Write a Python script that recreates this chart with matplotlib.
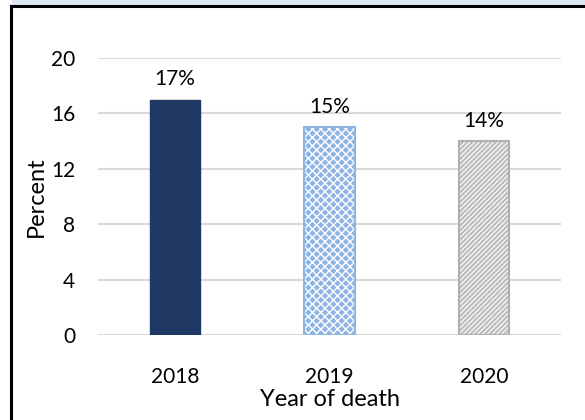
import matplotlib
matplotlib.use("Agg")
import matplotlib.pyplot as plt
from matplotlib.lines import Line2D
from matplotlib.patches import Rectangle

years = ["2018", "2019", "2020"]
values = [17, 15, 14]
labels = ["17%", "15%", "14%"]
yticks = [0, 4, 8, 12, 16, 20]

plt.rcParams['font.family'] = ['Lato', 'DejaVu Sans']

fig = plt.figure(figsize=(5.85, 4.2), dpi=100)
ax = fig.add_axes([98/585, 1-335/420, (561-98)/585, (335-58)/420])

x = list(range(len(years)))
w = 0.325

# 2018 solid
ax.bar(x[0], values[0], width=w, color="#203864", edgecolor="#203864", linewidth=1, zorder=3)
# 2019 blue pattern
plt.rcParams['hatch.linewidth'] = 1.0
ax.bar(x[1], values[1], width=w, color="#8db4e2", edgecolor="white", hatch="xxxx", linewidth=0, zorder=3)
ax.bar(x[1], values[1], width=w, fill=False, edgecolor="#8fb6e0", linewidth=1.5, zorder=4)
# 2020 gray diagonal
plt.rcParams['hatch.linewidth'] = 1.6
ax.bar(x[2], values[2], width=w, color="white", edgecolor="#bdbdbd", hatch="///////", linewidth=0, zorder=3)
ax.bar(x[2], values[2], width=w, fill=False, edgecolor="#b0b0b0", linewidth=1.5, zorder=4)

for xi, v, t in zip(x, values, labels):
    ax.text(xi, v + 0.75, t, ha="center", va="bottom", fontsize=15, color="black")

ax.set_xlim(-0.5, 2.5)
ax.set_ylim(0, 20)
ax.set_yticks(yticks)
ax.set_xticks(x)
ax.set_xticklabels(years)
ax.grid(axis="y", color="#d9d9d9", linewidth=1.5, zorder=0)
ax.set_axisbelow(True)
for s in ax.spines.values():
    s.set_visible(False)
ax.tick_params(axis="both", length=0, labelsize=15)
ax.tick_params(axis="y", pad=16.5)
ax.tick_params(axis="x", pad=23)
ax.set_ylabel("Percent", fontsize=17, va="center")
ax.yaxis.set_label_coords((36-98)/463, 0.5)
ax.set_xlabel("Year of death", fontsize=17, va="center")
ax.xaxis.set_label_coords(0.5, -(400-335)/277)

# frame / title strip
fig.patches.append(Rectangle((12/585, 1-4.5/420), 1, 4.5/420, transform=fig.transFigure,
                             facecolor="#dce6f2", edgecolor="none"))
fig.lines.append(Line2D([11/585, 1], [1-5.5/420, 1-5.5/420], transform=fig.transFigure, color="black", linewidth=2.2))
fig.lines.append(Line2D([11/585, 11/585], [0, 1-5.5/420], transform=fig.transFigure, color="black", linewidth=2.2))

fig.savefig("out.png", dpi=100)
